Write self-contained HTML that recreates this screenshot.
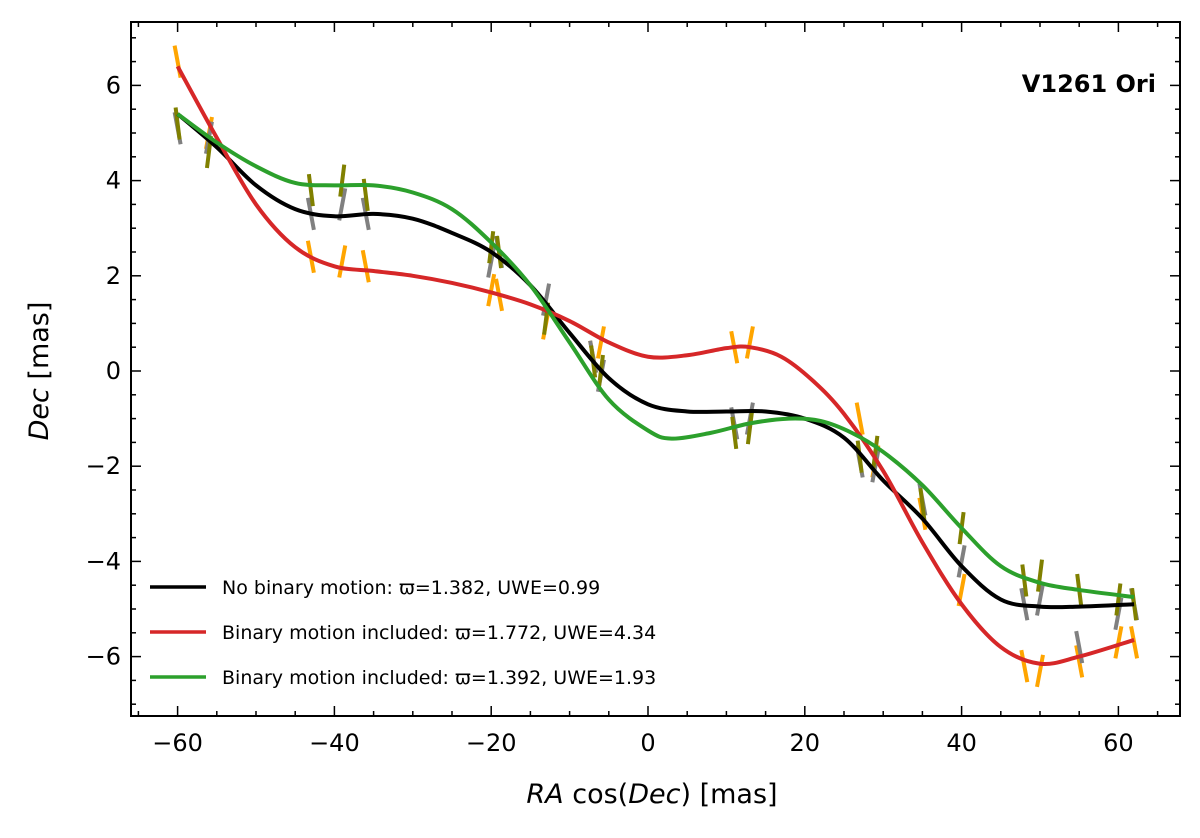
<!DOCTYPE html>
<html><head><meta charset="utf-8"><style>
body{margin:0;background:#fff;}
svg text{font-family:"DejaVu Sans","Liberation Sans",sans-serif;}
</style></head><body>
<svg id="chart" width="1200" height="833" viewBox="0 0 1200 833"></svg>
<script>
const blackX=[-60,-55,-50,-45,-40,-35,-30,-25,-20,-15,-10,-5,0,5,10,15,20,25,30,35,40,45,50,55,62];
const blackY=[5.4,4.7,3.9,3.4,3.25,3.3,3.2,2.9,2.5,1.8,0.8,-0.15,-0.7,-0.85,-0.85,-0.85,-1.0,-1.4,-2.3,-3.1,-4.1,-4.8,-4.95,-4.95,-4.9];
const redX=[-60,-55,-50,-45,-40,-35,-30,-25,-20,-15,-10,-5,0,5,10,13,17,21,25,30,35,40,45,50,55,62];
const redY=[6.4,4.9,3.5,2.6,2.2,2.1,2.0,1.85,1.65,1.4,1.05,0.6,0.3,0.33,0.48,0.5,0.3,-0.2,-0.9,-2.1,-3.6,-4.9,-5.8,-6.15,-6.0,-5.65];
const greenX=[-60,-55,-50,-45,-40,-35,-30,-25,-20,-15,-10,-5,0,3,8,13,18,22,26,30,35,40,45,50,55,62];
const greenY=[5.4,4.8,4.3,3.95,3.9,3.9,3.75,3.4,2.7,1.8,0.6,-0.6,-1.25,-1.42,-1.3,-1.1,-1.0,-1.05,-1.3,-1.7,-2.4,-3.3,-4.1,-4.45,-4.6,-4.75];
const epochX=[-60,-56,-43,-39,-36,-20,-19,-13,-7,-6,11,13,27,29,35,40,48,50,55,60,62];
const orangeY=[6.5,5.0,2.4,2.3,2.2,1.7,1.6,1.0,0.3,0.6,0.5,0.6,-1.0,-1.9,-3.0,-4.6,-6.2,-6.3,-6.1,-5.7,-5.7];
const grayY=[5.1,4.9,3.3,3.5,3.3,2.3,2.5,1.5,0.3,-0.1,-1.1,-1.0,-1.9,-2.0,-2.7,-4.0,-4.9,-4.8,-5.8,-5.1,-4.9];
const oliveY=[5.2,4.6,3.8,4.0,3.7,2.6,2.5,1.1,0.2,0.0,-1.3,-1.2,-1.8,-1.7,-2.8,-3.3,-4.4,-4.3,-4.6,-4.8,-4.9];
const xTicks=[-60,-40,-20,0,20,40,60];
const yTicks=[-6,-4,-2,0,2,4,6];

const NS="http://www.w3.org/2000/svg";
const svg=document.getElementById('chart');
const L=131,R=1180,T=22,B=716;
const sx=v=>648+v*7.84;
const sy=v=>371-v*47.6;
function el(tag,attrs,parent){const e=document.createElementNS(NS,tag);for(const k in attrs)e.setAttribute(k,attrs[k]);(parent||svg).appendChild(e);return e;}
function smooth(xs,ys){const p=xs.map((x,i)=>[sx(x),sy(ys[i])]);let d=`M${p[0][0]},${p[0][1]}`;
 for(let i=0;i<p.length-1;i++){const p0=p[Math.max(0,i-1)],p1=p[i],p2=p[i+1],p3=p[Math.min(p.length-1,i+2)];
 const c1=[p1[0]+(p2[0]-p0[0])/6,p1[1]+(p2[1]-p0[1])/6],c2=[p2[0]-(p3[0]-p1[0])/6,p2[1]-(p3[1]-p1[1])/6];
 d+=`C${c1[0]},${c1[1]} ${c2[0]},${c2[1]} ${p2[0]},${p2[1]}`;}return d;}

function segs(ys,color,name,tilt){const g=el('g',{});
 
 
 epochX.forEach((x,i)=>{const cx=sx(x),cy=sy(ys[i]);const t=(i%2?tilt:-tilt);
  const s=el('line',{x1:cx-t,y1:cy+16,x2:cx+t,y2:cy-16,stroke:color,'stroke-width':4},g);
  
  });}
segs(orangeY,'#ffa500','orange-measurements',3);
segs(grayY,'#808080','gray-measurements',3);
segs(oliveY,'#808000','olive-measurements',2);

[[blackX,blackY,'#000','black-curve'],[redX,redY,'#d62728','red-curve'],[greenX,greenY,'#2ca02c','green-curve']].forEach(c=>{
 const p=el('path',{d:smooth(c[0],c[1]),fill:'none',stroke:c[2],'stroke-width':4});
 
 });

const fr=el('rect',{x:L,y:T,width:R-L,height:B-T,fill:'none',stroke:'#000','stroke-width':2});


for(let v=-65;v<=65;v+=5){const x=sx(v);if(x<L||x>R)continue;const len=v%20===0?10:5;
 el('line',{x1:x,y1:B,x2:x,y2:B-len,stroke:'#000','stroke-width':1.5});
 el('line',{x1:x,y1:T,x2:x,y2:T+len,stroke:'#000','stroke-width':1.5});}
for(let v=-7;v<=7;v+=0.5){const y=sy(v);if(y<T||y>B)continue;const len=(v%2===0)?10:5;
 el('line',{x1:L,y1:y,x2:L+len,y2:y,stroke:'#000','stroke-width':1.5});
 el('line',{x1:R,y1:y,x2:R-len,y2:y,stroke:'#000','stroke-width':1.5});}
xTicks.forEach(v=>{const t=el('text',{x:sx(v),y:B+35,'text-anchor':'middle','font-size':24});t.textContent=(v<0?'\u2212'+(-v):v);
 
 });
yTicks.forEach(v=>{const t=el('text',{x:L-10,y:sy(v)+8,'text-anchor':'end','font-size':24});t.textContent=(v<0?'\u2212'+(-v):v);
 
 });

const xl=el('text',{x:652,y:803,'text-anchor':'middle','font-size':27});
xl.innerHTML='<tspan font-style="italic">RA</tspan> cos(<tspan font-style="italic">Dec</tspan>) [mas]';


const yl=el('text',{x:0,y:0,'text-anchor':'middle','font-size':27,transform:'translate(48,371) rotate(-90)'});
yl.innerHTML='<tspan font-style="italic">Dec</tspan> [mas]';


const tt=el('text',{x:1156,y:92,'text-anchor':'end','font-size':24,'font-weight':'bold'});tt.textContent='V1261 Ori';



const leg=[['#000','No binary motion: \u03d6=1.382, UWE=0.99',587],['#d62728','Binary motion included: \u03d6=1.772, UWE=4.34',632],['#2ca02c','Binary motion included: \u03d6=1.392, UWE=1.93',677]];
leg.forEach(l=>{const g=el('g',{});
 
 
 el('line',{x1:150,y1:l[2],x2:206,y2:l[2],stroke:l[0],'stroke-width':3.5},g);
 const t=el('text',{x:222,y:l[2]+7,'font-size':19},g);t.textContent=l[1];});
</script>
</body></html>
